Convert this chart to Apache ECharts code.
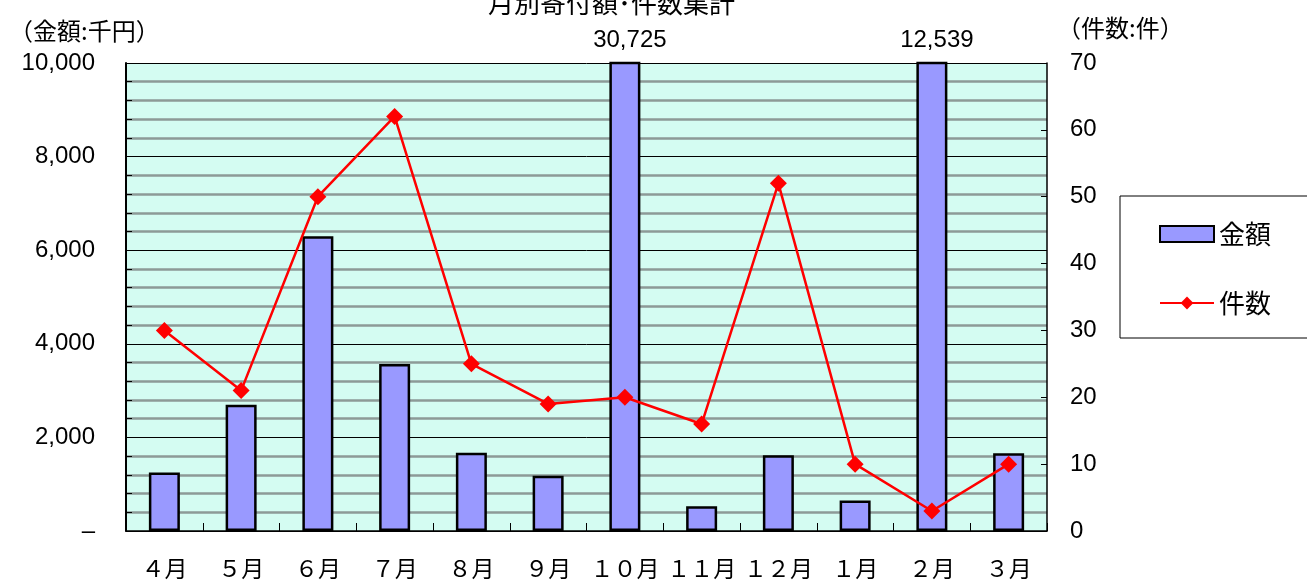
<!DOCTYPE html>
<html>
<head>
<meta charset="utf-8">
<script src="https://cdn.jsdelivr.net/npm/echarts@6/dist/echarts.min.js"></script>
<style>
html,body{margin:0;padding:0;background:#fff;}
#chart{width:1307px;height:580px;}
</style>
</head>
<body>
<div id="chart"></div>
<script>
const titleText = '月別寄付額･件数集計';
const leftAxisName = '（金額:千円）';
const rightAxisName = '（件数:件）';
const categories = ['４月','５月','６月','７月','８月','９月','１０月','１１月','１２月','１月','２月','３月'];
const amounts = [1250, 2700, 6300, 3570, 1670, 1180, 30725, 530, 1620, 650, 12539, 1660];
const counts = [30, 21, 50, 62, 25, 19, 20, 16, 52, 10, 3, 10];
const seriesNames = ['金額', '件数'];

const JP = '"Noto Sans CJK JP", sans-serif';
const NUM = '"Liberation Sans", Arial, sans-serif';
const fmt = v => String(v).replace(/\B(?=(\d{3})+(?!\d))/g, ',');
const gray = '#8d9a97';

const chart = echarts.init(document.getElementById('chart'));
chart.setOption({
  animation: false,
  backgroundColor: '#fff',
  title: [
    {text: titleText, left: 483, top: -15, textStyle: {fontFamily: JP, fontSize: 26, fontWeight: 'normal', color: '#000'}},
    {text: leftAxisName, left: 4, top: 14, textStyle: {fontFamily: JP, fontSize: 24, fontWeight: 'normal', color: '#000'}},
    {text: rightAxisName, left: 1052, top: 11, textStyle: {fontFamily: JP, fontSize: 24, fontWeight: 'normal', color: '#000'}}
  ],
  legend: {
    orient: 'vertical',
    left: 1120, top: 196,
    padding: [25, 40, 22, 39],
    itemGap: 43,
    itemWidth: 54, itemHeight: 16,
    itemTextGap: 8,
    backgroundColor: '#fff',
    borderColor: '#000', borderWidth: 1,
    textStyle: {fontFamily: JP, fontSize: 26, color: '#000'},
    data: [
      {name: seriesNames[0], icon: 'rect', itemStyle: {color: '#9999ff', borderColor: '#000', borderWidth: 2}},
      {name: seriesNames[1]}
    ]
  },
  grid: {left: 126, right: 260, top: 63, bottom: 49, show: true, backgroundColor: '#d4fcf2', borderWidth: 0},
  xAxis: {
    type: 'category',
    data: categories,
    boundaryGap: true,
    axisLine: {lineStyle: {color: '#000', width: 1.5}},
    axisTick: {show: true, inside: true, length: 8, alignWithLabel: false, interval: 0, lineStyle: {color: '#000', width: 1}},
    axisLabel: {fontFamily: JP, fontSize: 23, color: '#000', margin: 26, interval: 0}
  },
  yAxis: [
    {
      type: 'value', position: 'left', min: 0, max: 10000, interval: 400,
      axisLine: {show: true, lineStyle: {color: '#000', width: 2}},
      axisTick: {show: true, inside: true, length: 6, lineStyle: {color: '#000', width: 1}},
      axisLabel: {
        fontFamily: NUM, fontSize: 24, color: '#000', margin: 31,
        formatter: v => (v % 2000 === 0 ? (v === 0 ? '–' : fmt(v)) : '')
      },
      splitLine: {show: true, lineStyle: {color: ['transparent', gray, gray, gray, gray], width: 2.5}}
    },
    {
      type: 'value', position: 'right', min: 0, max: 70, interval: 10,
      axisLine: {show: true, lineStyle: {color: '#000', width: 1.5}},
      axisTick: {show: true, inside: true, length: 6, lineStyle: {color: '#000', width: 1}},
      axisLabel: {fontFamily: NUM, fontSize: 24, color: '#000', margin: 23},
      splitLine: {show: false}
    },
    {
      type: 'value', position: 'left', min: 0, max: 10000, interval: 2000,
      axisLine: {show: false}, axisTick: {show: false}, axisLabel: {show: false},
      splitLine: {show: true, lineStyle: {color: '#000', width: 1}}
    }
  ],
  series: [
    {
      name: seriesNames[0],
      type: 'bar',
      yAxisIndex: 0,
      barWidth: 31,
      clip: true,
      itemStyle: {color: '#9999ff', borderColor: '#000', borderWidth: 2.5},
      label: {show: false, position: 'top', distance: 9, fontFamily: NUM, fontSize: 24, color: '#000', formatter: p => fmt(p.value), offset: [5, 0]},
      data: amounts.map(v => (v > 10000 ? {value: v, label: {show: true}} : v))
    },
    {
      name: seriesNames[1],
      type: 'line',
      yAxisIndex: 1,
      symbol: 'diamond',
      symbolSize: 17,
      z: 5,
      itemStyle: {color: '#ff0000'},
      lineStyle: {color: '#ff0000', width: 2.5},
      data: counts
    }
  ]
});
</script>
</body>
</html>
